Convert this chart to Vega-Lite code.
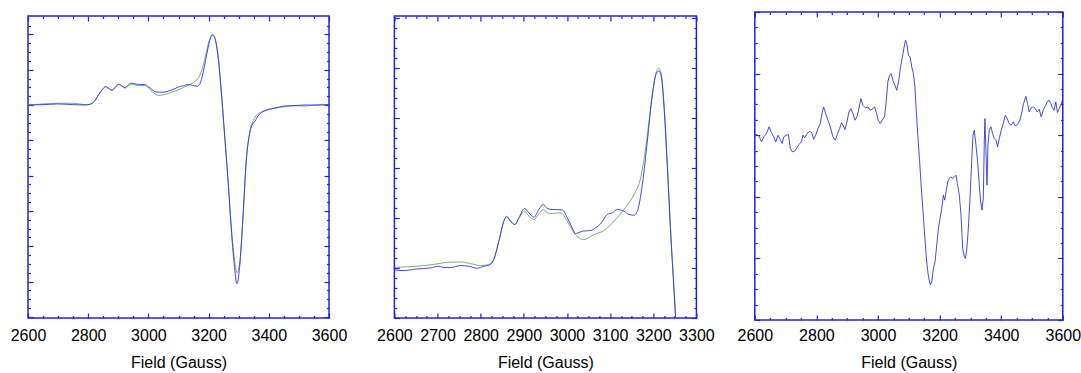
{
"$schema": "https://vega.github.io/schema/vega-lite/v6.json",
"padding": {"left": 9, "top": 10, "right": 0, "bottom": 0},
"autosize": {"type": "pad"},
"spacing": 20.4,
"config": {
  "view": {"stroke": "#2323d8", "strokeWidth": 1.5},
  "axis": {"domain": false, "grid": false, "tickColor": "#2323d8", "tickWidth": 1.2, "labelFont": "Liberation Sans", "labelFontSize": 16, "labelColor": "#000000", "titleFont": "Liberation Sans", "titleFontSize": 16, "titleFontWeight": "normal", "titleColor": "#000000", "labelFlush": false, "labelOverlap": false, "format": "d"}
},
"datasets": {
  "p1_exp": [
    {"field":2600,"signal":0},{"field":2650,"signal":1},{"field":2700,"signal":3},{"field":2750,"signal":1},{"field":2790,"signal":0},{"field":2805,"signal":2},{"field":2820,"signal":10},{"field":2835,"signal":30},{"field":2848,"signal":45},{"field":2858,"signal":52},{"field":2868,"signal":47},{"field":2879,"signal":42},{"field":2890,"signal":50},{"field":2901,"signal":59},{"field":2912,"signal":54},{"field":2922,"signal":49},{"field":2932,"signal":56},{"field":2943,"signal":62},{"field":2955,"signal":60},{"field":2970,"signal":58},{"field":2988,"signal":58},{"field":3000,"signal":52},{"field":3012,"signal":44},{"field":3025,"signal":37},{"field":3045,"signal":36},{"field":3065,"signal":39},{"field":3085,"signal":45},{"field":3100,"signal":51},{"field":3118,"signal":55},{"field":3131,"signal":58},{"field":3145,"signal":56},{"field":3162,"signal":53},{"field":3172,"signal":62},{"field":3180,"signal":85},{"field":3192,"signal":135},{"field":3203,"signal":180},{"field":3212,"signal":198},{"field":3220,"signal":190},{"field":3230,"signal":145},{"field":3242,"signal":40},{"field":3253,"signal":-83},{"field":3264,"signal":-206},{"field":3275,"signal":-347},{"field":3285,"signal":-450},{"field":3294,"signal":-506},{"field":3303,"signal":-460},{"field":3314,"signal":-319},{"field":3325,"signal":-158},{"field":3336,"signal":-83},{"field":3345,"signal":-55},{"field":3355,"signal":-45},{"field":3364,"signal":-31},{"field":3386,"signal":-17},{"field":3419,"signal":-9},{"field":3450,"signal":-3},{"field":3480,"signal":-2},{"field":3520,"signal":0},{"field":3560,"signal":0},{"field":3600,"signal":1}
  ],
  "p1_sim": [
    {"field":2600,"signal":0},{"field":2650,"signal":3},{"field":2700,"signal":5},{"field":2750,"signal":5},{"field":2790,"signal":1},{"field":2805,"signal":2},{"field":2820,"signal":10},{"field":2835,"signal":30},{"field":2848,"signal":45},{"field":2858,"signal":52},{"field":2868,"signal":47},{"field":2879,"signal":42},{"field":2890,"signal":50},{"field":2901,"signal":58},{"field":2912,"signal":53},{"field":2922,"signal":48},{"field":2932,"signal":54},{"field":2943,"signal":59},{"field":2955,"signal":57},{"field":2970,"signal":55},{"field":2988,"signal":55},{"field":3000,"signal":48},{"field":3012,"signal":38},{"field":3025,"signal":30},{"field":3035,"signal":27},{"field":3050,"signal":29},{"field":3070,"signal":34},{"field":3090,"signal":40},{"field":3110,"signal":47},{"field":3130,"signal":55},{"field":3150,"signal":64},{"field":3165,"signal":75},{"field":3178,"signal":100},{"field":3190,"signal":140},{"field":3203,"signal":185},{"field":3213,"signal":200},{"field":3222,"signal":188},{"field":3232,"signal":140},{"field":3242,"signal":40},{"field":3253,"signal":-83},{"field":3264,"signal":-206},{"field":3275,"signal":-340},{"field":3285,"signal":-430},{"field":3295,"signal":-475},{"field":3304,"signal":-440},{"field":3315,"signal":-310},{"field":3325,"signal":-160},{"field":3336,"signal":-80},{"field":3348,"signal":-45},{"field":3360,"signal":-28},{"field":3386,"signal":-16},{"field":3419,"signal":-9},{"field":3450,"signal":-5},{"field":3480,"signal":-2},{"field":3520,"signal":-3},{"field":3560,"signal":0},{"field":3600,"signal":1}
  ],
  "p2_exp": [
    {"field":2600,"signal":96},{"field":2621.7,"signal":94.7},{"field":2652.6,"signal":98},{"field":2683.5,"signal":100},{"field":2702.9,"signal":103.3},{"field":2714.5,"signal":100.7},{"field":2730,"signal":100.7},{"field":2753.2,"signal":104.7},{"field":2772.5,"signal":103.3},{"field":2791.8,"signal":99.3},{"field":2807.3,"signal":103.3},{"field":2818.9,"signal":105.3},{"field":2830.5,"signal":116.7},{"field":2842.1,"signal":153.3},{"field":2853.7,"signal":193.3},{"field":2859.9,"signal":202},{"field":2869.2,"signal":193.3},{"field":2879.2,"signal":186.7},{"field":2888.5,"signal":200},{"field":2901.7,"signal":218.7},{"field":2911.7,"signal":210},{"field":2923.3,"signal":201.3},{"field":2934.9,"signal":216.7},{"field":2945,"signal":226.7},{"field":2954.3,"signal":218.7},{"field":2965.9,"signal":216.7},{"field":2989.1,"signal":216},{"field":3000.7,"signal":200},{"field":3012.3,"signal":180},{"field":3020,"signal":168.7},{"field":3035.5,"signal":173.3},{"field":3054.8,"signal":174.7},{"field":3066.4,"signal":180},{"field":3078,"signal":188},{"field":3093.5,"signal":206.7},{"field":3105.1,"signal":210},{"field":3116.7,"signal":216.7},{"field":3132.2,"signal":213.3},{"field":3143.8,"signal":206.7},{"field":3155.4,"signal":205.3},{"field":3163.1,"signal":213.3},{"field":3174.7,"signal":266.7},{"field":3186.3,"signal":353.3},{"field":3197.9,"signal":446.7},{"field":3208,"signal":490},{"field":3213.4,"signal":493.3},{"field":3218.8,"signal":480},{"field":3225,"signal":420},{"field":3232.7,"signal":300},{"field":3240.5,"signal":166.7},{"field":3248.2,"signal":53.3},{"field":3254.4,"signal":-40}
  ],
  "p2_sim": [
    {"field":2600,"signal":101.3},{"field":2652.6,"signal":103.3},{"field":2699,"signal":108},{"field":2722.2,"signal":111.3},{"field":2753.2,"signal":112},{"field":2776.4,"signal":108.7},{"field":2799.6,"signal":104.7},{"field":2818.9,"signal":106.7},{"field":2830.5,"signal":118.7},{"field":2842.1,"signal":153.3},{"field":2853.7,"signal":193.3},{"field":2859.9,"signal":203.3},{"field":2869.2,"signal":193.3},{"field":2879.2,"signal":186.7},{"field":2888.5,"signal":198.7},{"field":2901.7,"signal":213.3},{"field":2911.7,"signal":203.3},{"field":2923.3,"signal":196.7},{"field":2934.9,"signal":208},{"field":2945,"signal":216.7},{"field":2954.3,"signal":210},{"field":2965.9,"signal":208.7},{"field":2985.2,"signal":210},{"field":3000.7,"signal":193.3},{"field":3016.2,"signal":170},{"field":3027.7,"signal":160},{"field":3039.3,"signal":156.7},{"field":3062.6,"signal":166.7},{"field":3085.8,"signal":174.7},{"field":3109,"signal":193.3},{"field":3132.2,"signal":216.7},{"field":3155.4,"signal":246.7},{"field":3170.8,"signal":280},{"field":3182.5,"signal":340},{"field":3194.1,"signal":420},{"field":3205.7,"signal":486.7},{"field":3212.6,"signal":498.7},{"field":3218.8,"signal":486.7},{"field":3225,"signal":426.7},{"field":3232.7,"signal":306.7},{"field":3240.5,"signal":173.3},{"field":3248.2,"signal":56.7},{"field":3254.4,"signal":-36.7}
  ],
  "p3_exp": [
    {"field":2600,"signal":300},{"field":2605.4,"signal":301.1},{"field":2614,"signal":298.4},{"field":2621.6,"signal":289.2},{"field":2629.2,"signal":297.3},{"field":2637.8,"signal":302.7},{"field":2646.4,"signal":313.5},{"field":2654,"signal":304.3},{"field":2661.6,"signal":297.3},{"field":2668,"signal":289.2},{"field":2675.6,"signal":300},{"field":2681,"signal":294.6},{"field":2688.6,"signal":286.5},{"field":2694,"signal":297.3},{"field":2702.6,"signal":300},{"field":2709.1,"signal":301.1},{"field":2715.5,"signal":278.4},{"field":2722,"signal":273},{"field":2729.6,"signal":274.1},{"field":2737.1,"signal":279.5},{"field":2743.6,"signal":284.9},{"field":2751.2,"signal":289.2},{"field":2756.6,"signal":300},{"field":2762,"signal":295.7},{"field":2769.5,"signal":302.7},{"field":2778.2,"signal":306.5},{"field":2784.7,"signal":304.3},{"field":2791.1,"signal":293.5},{"field":2797.6,"signal":300},{"field":2805.2,"signal":310.8},{"field":2812.7,"signal":318.9},{"field":2819.2,"signal":337.8},{"field":2823.5,"signal":345.9},{"field":2830,"signal":335.1},{"field":2837.6,"signal":324.3},{"field":2845.1,"signal":313.5},{"field":2853.8,"signal":297.3},{"field":2861.3,"signal":291.9},{"field":2868.9,"signal":302.7},{"field":2875.4,"signal":310.8},{"field":2881.9,"signal":320.5},{"field":2886.2,"signal":316.2},{"field":2892.7,"signal":309.2},{"field":2899.1,"signal":321.6},{"field":2905.6,"signal":337.8},{"field":2912.1,"signal":343.2},{"field":2918.6,"signal":335.1},{"field":2925.1,"signal":324.3},{"field":2931.5,"signal":329.7},{"field":2938,"signal":343.2},{"field":2944.5,"signal":359.5},{"field":2951,"signal":348.6},{"field":2959.6,"signal":344.3},{"field":2967.2,"signal":345.9},{"field":2974.7,"signal":340.5},{"field":2981.2,"signal":342.2},{"field":2988.8,"signal":345.9},{"field":2994.2,"signal":337.8},{"field":3000.6,"signal":324.3},{"field":3007.1,"signal":318.9},{"field":3013.6,"signal":324.3},{"field":3021.2,"signal":329.7},{"field":3026.6,"signal":354.1},{"field":3032,"signal":386.5},{"field":3037.4,"signal":397.3},{"field":3042.8,"signal":400},{"field":3048.2,"signal":389.2},{"field":3054.6,"signal":381.1},{"field":3061.1,"signal":373},{"field":3067.6,"signal":389.2},{"field":3073,"signal":410.8},{"field":3078.4,"signal":424.3},{"field":3083.8,"signal":440.5},{"field":3089.2,"signal":454.1},{"field":3093.5,"signal":448.6},{"field":3098.9,"signal":429.7},{"field":3104.3,"signal":427},{"field":3109.7,"signal":410.8},{"field":3115.1,"signal":400},{"field":3119.4,"signal":381.1},{"field":3123.8,"signal":343.2},{"field":3129.2,"signal":300},{"field":3134.6,"signal":262.2},{"field":3140,"signal":218.9},{"field":3145.4,"signal":181.1},{"field":3150.8,"signal":143.2},{"field":3156.2,"signal":105.4},{"field":3161.6,"signal":78.4},{"field":3167,"signal":62.2},{"field":3170.2,"signal":56.8},{"field":3174.5,"signal":62.2},{"field":3179.9,"signal":83.8},{"field":3185.3,"signal":94.6},{"field":3190.7,"signal":121.6},{"field":3196.1,"signal":148.6},{"field":3201.5,"signal":164.9},{"field":3206.9,"signal":181.1},{"field":3212.3,"signal":202.7},{"field":3216.6,"signal":194.6},{"field":3220.9,"signal":208.1},{"field":3226.3,"signal":224.3},{"field":3231.7,"signal":229.7},{"field":3237.1,"signal":232.4},{"field":3242.5,"signal":229.7},{"field":3247.9,"signal":232.4},{"field":3253.3,"signal":235.1},{"field":3257.7,"signal":221.6},{"field":3264.1,"signal":202.7},{"field":3269.5,"signal":170.3},{"field":3274.9,"signal":116.2},{"field":3280.3,"signal":102.7},{"field":3283.6,"signal":100},{"field":3287.9,"signal":113.5},{"field":3293.3,"signal":148.6},{"field":3298.7,"signal":197.3},{"field":3304.1,"signal":256.8},{"field":3308.4,"signal":300},{"field":3312.7,"signal":308.1},{"field":3318.1,"signal":283.8},{"field":3323.5,"signal":256.8},{"field":3328.9,"signal":218.9},{"field":3333.3,"signal":191.9},{"field":3337.6,"signal":178.4},{"field":3341.9,"signal":197.3},{"field":3345.1,"signal":289.2},{"field":3347.3,"signal":327},{"field":3350.5,"signal":273},{"field":3353.8,"signal":218.9},{"field":3357,"signal":283.8},{"field":3361.3,"signal":308.1},{"field":3366.7,"signal":313.5},{"field":3372.1,"signal":302.7},{"field":3377.5,"signal":294.6},{"field":3382.9,"signal":291.9},{"field":3388.3,"signal":281.1},{"field":3393.7,"signal":294.6},{"field":3400.2,"signal":308.1},{"field":3406.7,"signal":318.9},{"field":3413.2,"signal":332.4},{"field":3419.7,"signal":327},{"field":3426.1,"signal":318.9},{"field":3432.6,"signal":316.2},{"field":3439.1,"signal":321.6},{"field":3445.6,"signal":315.1},{"field":3453.1,"signal":317.3},{"field":3460.7,"signal":324.3},{"field":3467.2,"signal":337.8},{"field":3472.6,"signal":351.4},{"field":3480.1,"signal":363.2},{"field":3485.5,"signal":351.4},{"field":3490.9,"signal":337.8},{"field":3497.4,"signal":344.3},{"field":3503.9,"signal":345.9},{"field":3510.4,"signal":343.2},{"field":3516.8,"signal":337.8},{"field":3523.3,"signal":342.2},{"field":3529.8,"signal":329.7},{"field":3536.3,"signal":340.5},{"field":3542.8,"signal":347},{"field":3549.3,"signal":354.1},{"field":3555.7,"signal":356.8},{"field":3561.1,"signal":351.4},{"field":3566.5,"signal":344.3},{"field":3571.9,"signal":340.5},{"field":3577.3,"signal":354.1},{"field":3582.7,"signal":336.8},{"field":3588.1,"signal":343.2},{"field":3593.5,"signal":348.6},{"field":3600,"signal":359.5}
  ]
},
"hconcat": [
  {"spacing": 1, "vconcat": [
    {"width": 301, "height": 1, "view": {"stroke": null}, "data": {"name": "p1_exp"}, "mark": {"type": "line", "strokeOpacity": 0, "clip": true},
     "encoding": {"x": {"field": "field", "type": "quantitative", "axis": null}, "y": {"field": "signal", "type": "quantitative", "axis": null}}},
    {
    "width": 301, "height": 302,
    "resolve": {"axis": {"x": "independent", "y": "independent"}},
    "layer": [
      {"data": {"name": "p1_sim"}, "mark": {"type": "line", "interpolate": "monotone", "clip": true, "color": "#6aa66a", "strokeWidth": 0.9},
       "encoding": {
         "x": {"field": "field", "type": "quantitative", "scale": {"domain": [2600, 3600], "nice": false, "zero": false},
               "axis": {"orient": "bottom", "values": [2600, 2800, 3000, 3200, 3400, 3600], "tickSize": -5, "labelPadding": 14.7, "title": "Field (Gauss)", "titlePadding": 10.7}},
         "y": {"field": "signal", "type": "quantitative", "scale": {"domain": [-603, 252], "nice": false, "zero": false},
               "axis": {"orient": "left", "values": [-600, -500, -400, -300, -200, -100, 0, 100, 200], "tickSize": -5, "labels": false, "title": null}}}},
      {"data": {"name": "p1_exp"}, "mark": {"type": "line", "interpolate": "monotone", "clip": true, "color": "#3434e0", "strokeWidth": 0.9},
       "encoding": {
         "x": {"field": "field", "type": "quantitative", "scale": {"domain": [2600, 3600], "nice": false, "zero": false},
               "axis": {"orient": "bottom", "values": [2650, 2700, 2750, 2850, 2900, 2950, 3050, 3100, 3150, 3250, 3300, 3350, 3450, 3500, 3550], "tickSize": -2.5, "labels": false, "title": null}},
         "y": {"field": "signal", "type": "quantitative", "scale": {"domain": [-603, 252], "nice": false, "zero": false},
               "axis": {"orient": "left", "values": [-575, -550, -525, -475, -450, -425, -375, -350, -325, -275, -250, -225, -175, -150, -125, -75, -50, -25, 25, 50, 75, 125, 150, 175, 225], "tickSize": -2.5, "labels": false, "title": null}}}},
      {"data": {"name": "p1_exp"}, "mark": {"type": "line", "strokeOpacity": 0},
       "encoding": {
         "x": {"field": "field", "type": "quantitative", "scale": {"domain": [2600, 3600], "nice": false, "zero": false},
               "axis": {"orient": "top", "values": [2600, 2800, 3000, 3200, 3400, 3600], "tickSize": -5, "labels": false, "title": null}},
         "y": {"field": "signal", "type": "quantitative", "scale": {"domain": [-603, 252], "nice": false, "zero": false},
               "axis": {"orient": "right", "values": [-600, -500, -400, -300, -200, -100, 0, 100, 200], "tickSize": -5, "labels": false, "title": null}}}},
      {"data": {"name": "p1_exp"}, "mark": {"type": "line", "strokeOpacity": 0},
       "encoding": {
         "x": {"field": "field", "type": "quantitative", "scale": {"domain": [2600, 3600], "nice": false, "zero": false},
               "axis": {"orient": "top", "values": [2650, 2700, 2750, 2850, 2900, 2950, 3050, 3100, 3150, 3250, 3300, 3350, 3450, 3500, 3550], "tickSize": -2.5, "labels": false, "title": null}},
         "y": {"field": "signal", "type": "quantitative", "scale": {"domain": [-603, 252], "nice": false, "zero": false},
               "axis": {"orient": "right", "values": [-575, -550, -525, -475, -450, -425, -375, -350, -325, -275, -250, -225, -175, -150, -125, -75, -50, -25, 25, 50, 75, 125, 150, 175, 225], "tickSize": -2.5, "labels": false, "title": null}}}}
    ]
  }]},
  {"spacing": 1, "vconcat": [
    {"width": 302, "height": 1, "view": {"stroke": null}, "data": {"name": "p2_exp"}, "mark": {"type": "line", "strokeOpacity": 0, "clip": true},
     "encoding": {"x": {"field": "field", "type": "quantitative", "axis": null}, "y": {"field": "signal", "type": "quantitative", "axis": null}}},
    {
    "width": 302, "height": 302,
    "resolve": {"axis": {"x": "independent", "y": "independent"}},
    "layer": [
      {"data": {"name": "p2_sim"}, "mark": {"type": "line", "interpolate": "monotone", "clip": true, "color": "#6aa66a", "strokeWidth": 0.9},
       "encoding": {
         "x": {"field": "field", "type": "quantitative", "scale": {"domain": [2600, 3300], "nice": false, "zero": false},
               "axis": {"orient": "bottom", "values": [2600, 2700, 2800, 2900, 3000, 3100, 3200, 3300], "tickSize": -5, "labelPadding": 14.7, "title": "Field (Gauss)", "titlePadding": 10.7}},
         "y": {"field": "signal", "type": "quantitative", "scale": {"domain": [0, 603], "nice": false, "zero": false},
               "axis": {"orient": "left", "values": [0, 100, 200, 300, 400, 500, 600], "tickSize": -5, "labels": false, "title": null}}}},
      {"data": {"name": "p2_exp"}, "mark": {"type": "line", "interpolate": "monotone", "clip": true, "color": "#3434e0", "strokeWidth": 0.9},
       "encoding": {
         "x": {"field": "field", "type": "quantitative", "scale": {"domain": [2600, 3300], "nice": false, "zero": false},
               "axis": {"orient": "bottom", "values": [2625, 2650, 2675, 2725, 2750, 2775, 2825, 2850, 2875, 2925, 2950, 2975, 3025, 3050, 3075, 3125, 3150, 3175, 3225, 3250, 3275], "tickSize": -2.5, "labels": false, "title": null}},
         "y": {"field": "signal", "type": "quantitative", "scale": {"domain": [0, 603], "nice": false, "zero": false},
               "axis": {"orient": "left", "values": [20, 40, 60, 80, 120, 140, 160, 180, 220, 240, 260, 280, 320, 340, 360, 380, 420, 440, 460, 480, 520, 540, 560, 580], "tickSize": -2.5, "labels": false, "title": null}}}},
      {"data": {"name": "p2_exp"}, "mark": {"type": "line", "strokeOpacity": 0},
       "encoding": {
         "x": {"field": "field", "type": "quantitative", "scale": {"domain": [2600, 3300], "nice": false, "zero": false},
               "axis": {"orient": "top", "values": [2600, 2700, 2800, 2900, 3000, 3100, 3200, 3300], "tickSize": -5, "labels": false, "title": null}},
         "y": {"field": "signal", "type": "quantitative", "scale": {"domain": [0, 603], "nice": false, "zero": false},
               "axis": {"orient": "right", "values": [0, 100, 200, 300, 400, 500, 600], "tickSize": -5, "labels": false, "title": null}}}},
      {"data": {"name": "p2_exp"}, "mark": {"type": "line", "strokeOpacity": 0},
       "encoding": {
         "x": {"field": "field", "type": "quantitative", "scale": {"domain": [2600, 3300], "nice": false, "zero": false},
               "axis": {"orient": "top", "values": [2625, 2650, 2675, 2725, 2750, 2775, 2825, 2850, 2875, 2925, 2950, 2975, 3025, 3050, 3075, 3125, 3150, 3175, 3225, 3250, 3275], "tickSize": -2.5, "labels": false, "title": null}},
         "y": {"field": "signal", "type": "quantitative", "scale": {"domain": [0, 603], "nice": false, "zero": false},
               "axis": {"orient": "right", "values": [20, 40, 60, 80, 120, 140, 160, 180, 220, 240, 260, 280, 320, 340, 360, 380, 420, 440, 460, 480, 520, 540, 560, 580], "tickSize": -2.5, "labels": false, "title": null}}}},
      {"data": {"name": "p2_exp"}, "mark": {"type": "line", "strokeOpacity": 0},
       "encoding": {
         "x": {"field": "field", "type": "quantitative", "scale": {"domain": [2600, 3300], "nice": false, "zero": false}, "axis": null},
         "y": {"field": "signal", "type": "quantitative", "scale": {"domain": [0, 603], "nice": false, "zero": false},
               "axis": {"orient": "left", "offset": 24.8, "ticks": false, "labels": false, "domain": true, "domainOpacity": 0, "title": null}}}}
    ]
  }]},
  {
    "width": 308, "height": 308,
    "resolve": {"axis": {"x": "independent", "y": "independent"}},
    "layer": [
      {"data": {"name": "p3_exp"}, "mark": {"type": "line", "clip": true, "color": "#3434e0", "strokeWidth": 0.9},
       "encoding": {
         "x": {"field": "field", "type": "quantitative", "scale": {"domain": [2600, 3600], "nice": false, "zero": false},
               "axis": {"orient": "bottom", "values": [2600, 2800, 3000, 3200, 3400, 3600], "tickSize": -5, "labelPadding": 12.7, "title": "Field (Gauss)", "titlePadding": 10.7}},
         "y": {"field": "signal", "type": "quantitative", "scale": {"domain": [0, 500], "nice": false, "zero": false},
               "axis": {"orient": "left", "values": [0, 100, 200, 300, 400, 500], "tickSize": -5, "labels": false, "title": null}}}},
      {"data": {"name": "p3_exp"}, "mark": {"type": "line", "strokeOpacity": 0},
       "encoding": {
         "x": {"field": "field", "type": "quantitative", "scale": {"domain": [2600, 3600], "nice": false, "zero": false},
               "axis": {"orient": "bottom", "values": [2650, 2700, 2750, 2850, 2900, 2950, 3050, 3100, 3150, 3250, 3300, 3350, 3450, 3500, 3550], "tickSize": -2.5, "labels": false, "title": null}},
         "y": {"field": "signal", "type": "quantitative", "scale": {"domain": [0, 500], "nice": false, "zero": false},
               "axis": {"orient": "left", "values": [25, 50, 75, 125, 150, 175, 225, 250, 275, 325, 350, 375, 425, 450, 475], "tickSize": -2.5, "labels": false, "title": null}}}},
      {"data": {"name": "p3_exp"}, "mark": {"type": "line", "strokeOpacity": 0},
       "encoding": {
         "x": {"field": "field", "type": "quantitative", "scale": {"domain": [2600, 3600], "nice": false, "zero": false},
               "axis": {"orient": "top", "values": [2600, 2800, 3000, 3200, 3400, 3600], "tickSize": -5, "labels": false, "title": null}},
         "y": {"field": "signal", "type": "quantitative", "scale": {"domain": [0, 500], "nice": false, "zero": false},
               "axis": {"orient": "right", "values": [0, 100, 200, 300, 400, 500], "tickSize": -5, "labels": false, "title": null}}}},
      {"data": {"name": "p3_exp"}, "mark": {"type": "line", "strokeOpacity": 0},
       "encoding": {
         "x": {"field": "field", "type": "quantitative", "scale": {"domain": [2600, 3600], "nice": false, "zero": false},
               "axis": {"orient": "top", "values": [2650, 2700, 2750, 2850, 2900, 2950, 3050, 3100, 3150, 3250, 3300, 3350, 3450, 3500, 3550], "tickSize": -2.5, "labels": false, "title": null}},
         "y": {"field": "signal", "type": "quantitative", "scale": {"domain": [0, 500], "nice": false, "zero": false},
               "axis": {"orient": "right", "values": [25, 50, 75, 125, 150, 175, 225, 250, 275, 325, 350, 375, 425, 450, 475], "tickSize": -2.5, "labels": false, "title": null}}}}
    ]
  }
]
}
